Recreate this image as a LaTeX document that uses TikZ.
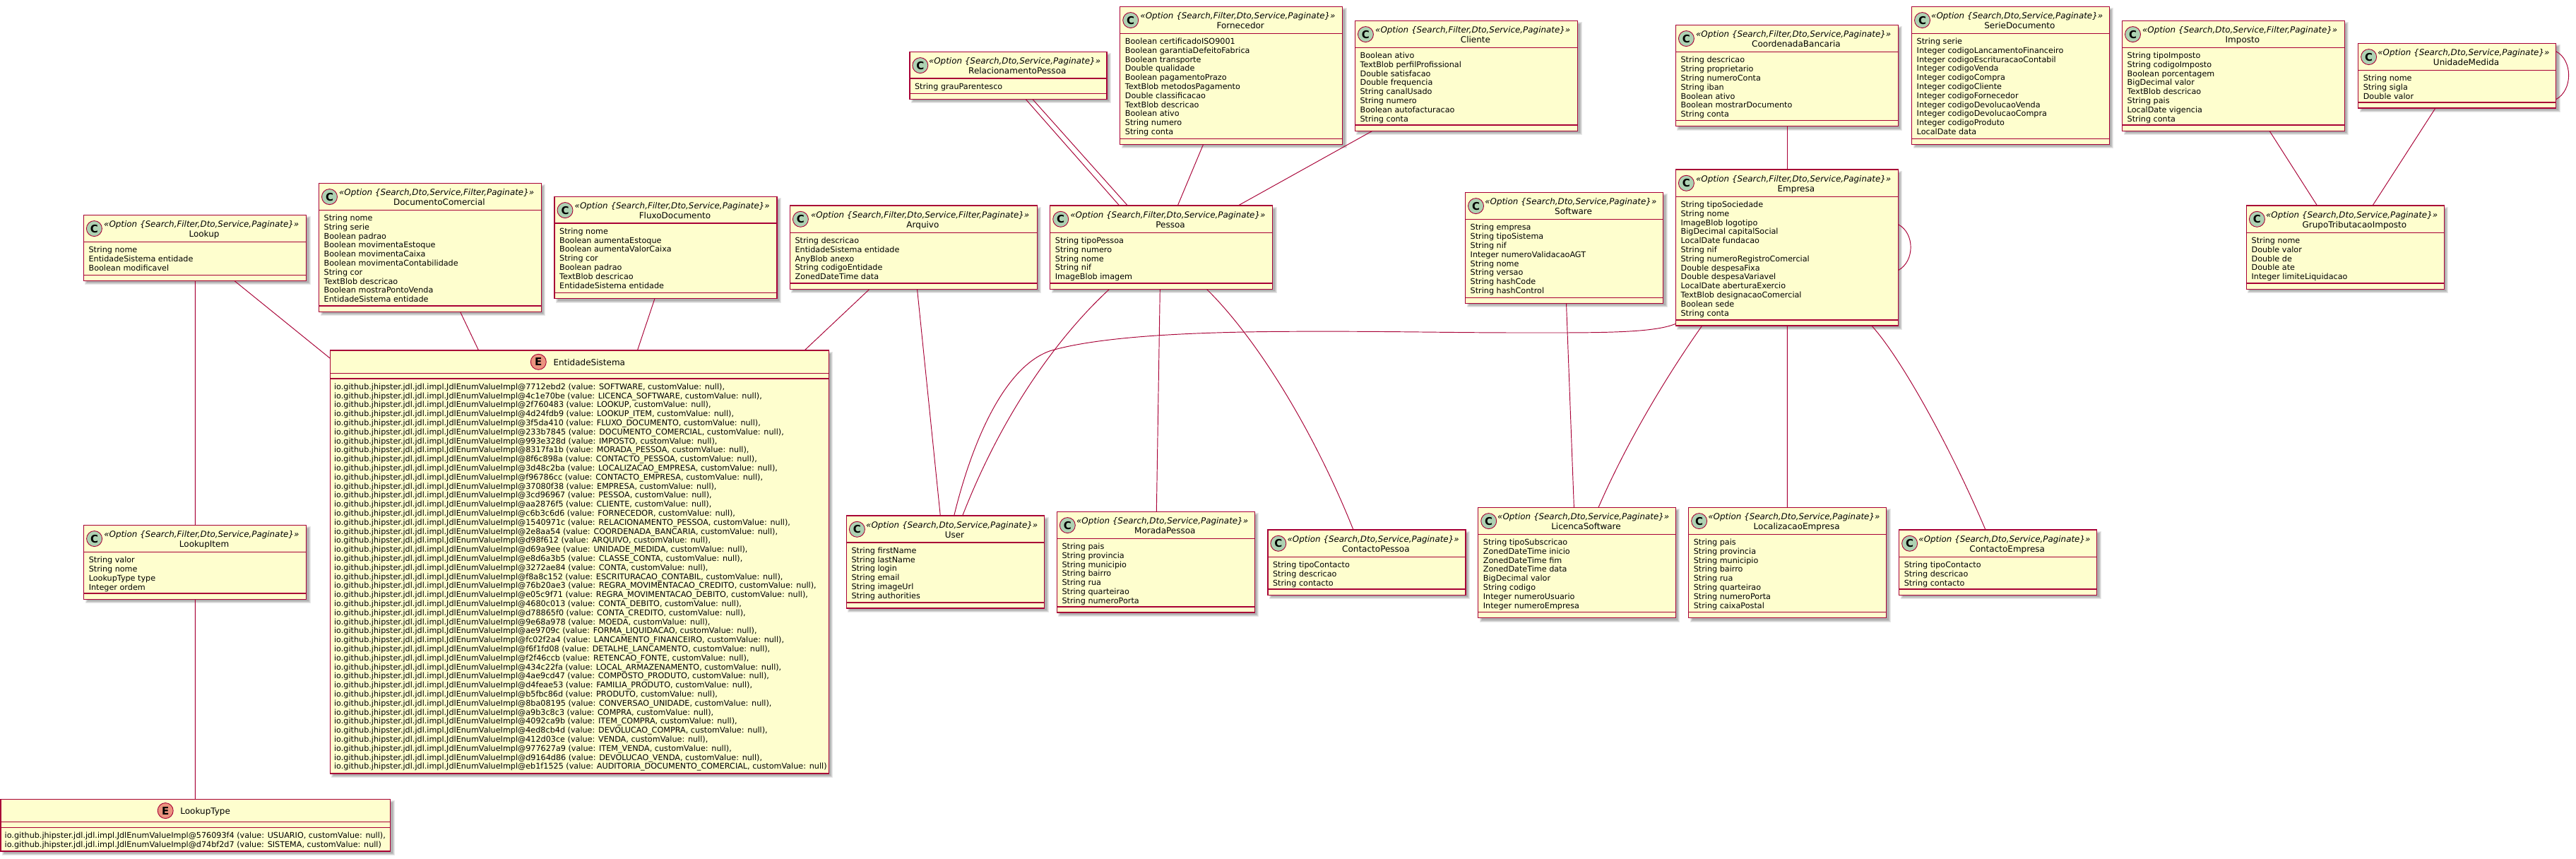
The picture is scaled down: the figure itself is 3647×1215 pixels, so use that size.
\documentclass[tikz,border=0pt]{standalone}
\usepackage{fontspec}
\setmainfont{DejaVu Sans}
\definecolor{umlline}{HTML}{A80036}
\definecolor{umlfill}{HTML}{FEFECE}
\definecolor{umlC}{HTML}{ADD1B2}
\definecolor{umlE}{HTML}{EB937F}
\tikzset{
  x=1pt,y=-1pt,
  boxshape/.style={draw=umlline,fill=umlfill,line width=1.4pt,rectangle,inner sep=0pt,outer sep=0pt,anchor=north west},
  sepline/.style={draw=umlline,line width=1.2pt},
  conn/.style={draw=umlline,line width=0.95pt},
  badge/.style={circle,draw=umlline,line width=0.9pt,inner sep=0pt,minimum size=22pt,font=\fontsize{15}{15}\selectfont\bfseries},
  stereotext/.style={anchor=base,inner sep=0pt,font=\fontsize{11.9}{13}\selectfont\itshape},
  titletext/.style={anchor=base,inner sep=0pt,font=\fontsize{12}{13}\selectfont},
  rowtext/.style={anchor=north west,inner sep=0pt,font=\fontsize{11.2}{13}\selectfont},
}
% rows separated by \\ become one \hbox each, at a fixed pitch
\newcommand{\rowstack}[1]{\vtop{\baselineskip=12.8pt\lineskiplimit=-20pt
  \def\\{\egroup\hbox\bgroup\ignorespaces}\hbox\bgroup\rule{0pt}{10pt}\ignorespaces#1\egroup}}
\newcommand{\umlshadow}[4]{%
  \foreach \g in {2,1,0,-1}{%
    \fill[black,opacity=0.085] ({#1+4-\g},{#2+4-\g}) rectangle ({#3+4+\g},{#4+4+\g});
  }%
}
% id, L, T, R, S1, S2, B, stereotype, title, rows
\newcommand{\umlclass}[9]{%
  \def\clsid{#1}\def\clsL{#2}\def\clsT{#3}\def\clsR{#4}\def\clsA{#5}\def\clsB{#6}\def\clsE{#7}\def\clsS{#8}\def\clsN{#9}%
  \umlclassrows}
\newcommand{\umlclassrows}[1]{%
  \umlshadow{\clsL}{\clsT}{\clsR}{\clsE}
  \pgfmathsetmacro{\bw}{\clsR-\clsL}\pgfmathsetmacro{\bh}{\clsE-\clsT}
  \node[boxshape,minimum width=\bw pt,minimum height=\bh pt] (\clsid) at (\clsL,\clsT) {};
  \draw[sepline] (\clsL,\clsA) -- (\clsR,\clsA);
  \draw[sepline] (\clsL,\clsB) -- (\clsR,\clsB);
  \pgfmathsetmacro{\cx}{\clsL+15}\pgfmathsetmacro{\cy}{\clsT+19.3}
  \node[badge,fill=umlC] (\clsid-badge) at (\cx,\cy) {C};
  \pgfmathsetmacro{\sx}{(\clsL+27+\clsR-8.5)/2}\pgfmathsetmacro{\sy}{\clsT+17.3}
  \node[stereotext] (\clsid-stereo) at (\sx,\sy) {\clsS};
  \pgfmathsetmacro{\tx}{(\clsL+26+\clsR)/2}\pgfmathsetmacro{\ty}{\clsT+31.3}
  \node[titletext] (\clsid-title) at (\tx,\ty) {\clsN};
  \pgfmathsetmacro{\rx}{\clsL+7}\pgfmathsetmacro{\ry}{\clsA+5}
  \node[rowtext] (\clsid-rows) at (\rx,\ry) {\rowstack{#1}};
}
% id, L, T, R, S1, S2, B, circle x, title, rows
\newcommand{\umlenum}[9]{%
  \def\clsid{#1}\def\clsL{#2}\def\clsT{#3}\def\clsR{#4}\def\clsA{#5}\def\clsB{#6}\def\clsE{#7}\def\clsS{#8}\def\clsN{#9}%
  \umlenumrows}
\newcommand{\umlenumrows}[1]{%
  \umlshadow{\clsL}{\clsT}{\clsR}{\clsE}
  \pgfmathsetmacro{\bw}{\clsR-\clsL}\pgfmathsetmacro{\bh}{\clsE-\clsT}
  \node[boxshape,minimum width=\bw pt,minimum height=\bh pt] (\clsid) at (\clsL,\clsT) {};
  \draw[sepline] (\clsL,\clsA) -- (\clsR,\clsA);
  \draw[sepline] (\clsL,\clsB) -- (\clsR,\clsB);
  \pgfmathsetmacro{\cy}{\clsT+16.3}
  \node[badge,fill=umlE] (\clsid-badge) at (\clsS,\cy) {E};
  \pgfmathsetmacro{\ty}{\clsT+21}
  \node[titletext,anchor=base west] (\clsid-title) at ({\clsS+21},\ty) {\clsN};
  \pgfmathsetmacro{\rx}{\clsL+5.5}\pgfmathsetmacro{\ry}{\clsB+5}
  \node[rowtext] (\clsid-rows) at (\rx,\ry) {\rowstack{#1}};
}
\newcommand{\sSFDSP}{«Option \{Search,Filter,Dto,Service,Paginate\}»}
\newcommand{\sSDSP}{«Option \{Search,Dto,Service,Paginate\}»}
\newcommand{\sSDSFP}{«Option \{Search,Dto,Service,Filter,Paginate\}»}
\newcommand{\sSFDSFP}{«Option \{Search,Filter,Dto,Service,Filter,Paginate\}»}
\newcommand{\ev}[3]{io.github.jhipster.jdl.jdl.impl.JdlEnumValueImpl@#1 (value: #2, customValue: null)#3}
\begin{document}
\begin{tikzpicture}
\useasboundingbox (0,0) rectangle (3647,1215);
\fill[white] (0,0) rectangle (3647,1215);

\umlclass{lookup}{118.4}{304.3}{433.6}{342.3}{389.3}{397.3}{\sSFDSP}{Lookup}{String nome\\EntidadeSistema entidade\\Boolean modificavel}
\umlclass{lookupitem}{118.6}{743.3}{433.6}{781.7}{840}{848.3}{\sSFDSP}{LookupItem}{String valor\\String nome\\LookupType type\\Integer ordem}
\umlenum{lookuptype}{1}{1131.3}{552.6}{1163.3}{1171.7}{1205}{234.2}{LookupType}{\ev{576093f4}{USUARIO}{,}\\\ev{d74bf2d7}{SISTEMA}{}}
\umlclass{doccom}{451.5}{259.3}{766.3}{297.3}{433}{441.3}{\sSDSFP}{DocumentoComercial}{String nome\\String serie\\Boolean padrao\\Boolean movimentaEstoque\\Boolean movimentaCaixa\\Boolean movimentaContabilidade\\String cor\\TextBlob descricao\\Boolean mostraPontoVenda\\EntidadeSistema entidade}
\umlclass{fluxo}{785}{278.3}{1100}{316}{414.3}{422.7}{\sSFDSP}{FluxoDocumento}{String nome\\Boolean aumentaEstoque\\Boolean aumentaValorCaixa\\String cor\\Boolean padrao\\TextBlob descricao\\EntidadeSistema entidade}
\umlenum{entidade}{467.4}{496}{1173.4}{528.3}{536}{1095}{762.3}{EntidadeSistema}{%
\ev{7712ebd2}{SOFTWARE}{,}\\
\ev{4c1e70be}{LICENCA\_SOFTWARE}{,}\\
\ev{2f760483}{LOOKUP}{,}\\
\ev{4d24fdb9}{LOOKUP\_ITEM}{,}\\
\ev{3f5da410}{FLUXO\_DOCUMENTO}{,}\\
\ev{233b7845}{DOCUMENTO\_COMERCIAL}{,}\\
\ev{993e328d}{IMPOSTO}{,}\\
\ev{8317fa1b}{MORADA\_PESSOA}{,}\\
\ev{8f6c898a}{CONTACTO\_PESSOA}{,}\\
\ev{3d48c2ba}{LOCALIZACAO\_EMPRESA}{,}\\
\ev{f96786cc}{CONTACTO\_EMPRESA}{,}\\
\ev{37080f38}{EMPRESA}{,}\\
\ev{3cd96967}{PESSOA}{,}\\
\ev{aa2876f5}{CLIENTE}{,}\\
\ev{c6b3c6d6}{FORNECEDOR}{,}\\
\ev{1540971c}{RELACIONAMENTO\_PESSOA}{,}\\
\ev{2e8aa54}{COORDENADA\_BANCARIA}{,}\\
\ev{d98f612}{ARQUIVO}{,}\\
\ev{d69a9ee}{UNIDADE\_MEDIDA}{,}\\
\ev{e8d6a3b5}{CLASSE\_CONTA}{,}\\
\ev{3272ae84}{CONTA}{,}\\
\ev{f8a8c152}{ESCRITURACAO\_CONTABIL}{,}\\
\ev{76b20ae3}{REGRA\_MOVIMENTACAO\_CREDITO}{,}\\
\ev{e05c9f71}{REGRA\_MOVIMENTACAO\_DEBITO}{,}\\
\ev{4680c013}{CONTA\_DEBITO}{,}\\
\ev{d78865f0}{CONTA\_CREDITO}{,}\\
\ev{9e68a978}{MOEDA}{,}\\
\ev{ae9709c}{FORMA\_LIQUIDACAO}{,}\\
\ev{fc02f2a4}{LANCAMENTO\_FINANCEIRO}{,}\\
\ev{f6f1fd08}{DETALHE\_LANCAMENTO}{,}\\
\ev{f2f46ccb}{RETENCAO\_FONTE}{,}\\
\ev{434c22fa}{LOCAL\_ARMAZENAMENTO}{,}\\
\ev{4ae9cd47}{COMPOSTO\_PRODUTO}{,}\\
\ev{d4feae53}{FAMILIA\_PRODUTO}{,}\\
\ev{b5fbc86d}{PRODUTO}{,}\\
\ev{8ba08195}{CONVERSAO\_UNIDADE}{,}\\
\ev{a9b3c8c3}{COMPRA}{,}\\
\ev{4092ca9b}{ITEM\_COMPRA}{,}\\
\ev{4ed8cb4d}{DEVOLUCAO\_COMPRA}{,}\\
\ev{412d03ce}{VENDA}{,}\\
\ev{977627a9}{ITEM\_VENDA}{,}\\
\ev{d9164d86}{DEVOLUCAO\_VENDA}{,}\\
\ev{eb1f1525}{AUDITORIA\_DOCUMENTO\_COMERCIAL}{}}
\umlclass{arquivo}{1118.4}{291}{1468.4}{329.3}{401}{409.3}{\sSFDSFP}{Arquivo}{String descricao\\EntidadeSistema entidade\\AnyBlob anexo\\String codigoEntidade\\ZonedDateTime data}
\umlclass{pessoa}{1486.7}{291}{1801.5}{329.3}{401}{409.3}{\sSFDSP}{Pessoa}{String tipoPessoa\\String numero\\String nome\\String nif\\ImageBlob imagem}
\umlclass{rel}{1287.8}{73.3}{1566.8}{111}{132.3}{140.3}{\sSDSP}{RelacionamentoPessoa}{String grauParentesco}
\umlclass{fornecedor}{1585.7}{9.3}{1900.7}{47.3}{196.3}{204.3}{\sSFDSP}{Fornecedor}{Boolean certificadoISO9001\\Boolean garantiaDefeitoFabrica\\Boolean transporte\\Double qualidade\\Boolean pagamentoPrazo\\TextBlob metodosPagamento\\Double classificacao\\TextBlob descricao\\Boolean ativo\\String numero\\String conta}
\umlclass{cliente}{1918.4}{29.3}{2233.5}{67.3}{177}{185.3}{\sSFDSP}{Cliente}{Boolean ativo\\TextBlob perfilProfissional\\Double satisfacao\\Double frequencia\\String canalUsado\\String numero\\Boolean autofacturacao\\String conta}
\umlclass{coordenada}{2372.4}{35.3}{2687.4}{73.7}{170.3}{178.7}{\sSFDSP}{CoordenadaBancaria}{String descricao\\String proprietario\\String numeroConta\\String iban\\Boolean ativo\\Boolean mostrarDocumento\\String conta}
\umlclass{empresa}{2372.4}{240}{2687.4}{278.3}{453}{461}{\sSFDSP}{Empresa}{String tipoSociedade\\String nome\\ImageBlob logotipo\\BigDecimal capitalSocial\\LocalDate fundacao\\String nif\\String numeroRegistroComercial\\Double despesaFixa\\Double despesaVariavel\\LocalDate aberturaExercio\\TextBlob designacaoComercial\\Boolean sede\\String conta}
\umlclass{software}{2074.5}{272.3}{2354.6}{310.7}{421.3}{429.3}{\sSDSP}{Software}{String empresa\\String tipoSistema\\String nif\\Integer numeroValidacaoAGT\\String nome\\String versao\\String hashCode\\String hashControl}
\umlclass{serie}{2706.5}{9.3}{2986.3}{47.3}{196.3}{204.3}{\sSDSP}{SerieDocumento}{String serie\\Integer codigoLancamentoFinanceiro\\Integer codigoEscrituracaoContabil\\Integer codigoVenda\\Integer codigoCompra\\Integer codigoCliente\\Integer codigoFornecedor\\Integer codigoDevolucaoVenda\\Integer codigoDevolucaoCompra\\Integer codigoProduto\\LocalDate data}
\umlclass{imposto}{3004.5}{29.3}{3319.3}{67.3}{177}{185.3}{\sSDSFP}{Imposto}{String tipoImposto\\String codigoImposto\\Boolean porcentagem\\BigDecimal valor\\TextBlob descricao\\String pais\\LocalDate vigencia\\String conta}
\umlclass{unidade}{3338.6}{61.3}{3618.6}{99.3}{145}{153}{\sSDSP}{UnidadeMedida}{String nome\\String sigla\\Double valor}
\umlclass{grupo}{3180.4}{291}{3460.3}{329.3}{401}{409.3}{\sSDSP}{GrupoTributacaoImposto}{String nome\\Double valor\\Double de\\Double ate\\Integer limiteLiquidacao}
\umlclass{user}{1198.4}{730}{1478.5}{768}{853}{861}{\sSDSP}{User}{String firstName\\String lastName\\String login\\String email\\String imageUrl\\String authorities}
\umlclass{morada}{1496.3}{724.3}{1776.4}{762.3}{859}{867}{\sSDSP}{MoradaPessoa}{String pais\\String provincia\\String municipio\\String bairro\\String rua\\String quarteirao\\String numeroPorta}
\umlclass{contactop}{1794.8}{750}{2075}{788.3}{834}{842.3}{\sSDSP}{ContactoPessoa}{String tipoContacto\\String descricao\\String contacto}
\umlclass{licenca}{2092.7}{718.3}{2372.2}{756.3}{866.3}{874.7}{\sSDSP}{LicencaSoftware}{String tipoSubscricao\\ZonedDateTime inicio\\ZonedDateTime fim\\ZonedDateTime data\\BigDecimal valor\\String codigo\\Integer numeroUsuario\\Integer numeroEmpresa}
\umlclass{localizacao}{2390.6}{718.3}{2670.7}{756.3}{866.3}{874.7}{\sSDSP}{LocalizacaoEmpresa}{String pais\\String provincia\\String municipio\\String bairro\\String rua\\String quarteirao\\String numeroPorta\\String caixaPostal}
\umlclass{contactoe}{2688.6}{750}{2968.7}{788.3}{834}{842.3}{\sSDSP}{ContactoEmpresa}{String tipoContacto\\String descricao\\String contacto}

% connectors
\draw[conn] ([xshift=213.2pt]lookup.south west) -- ([yshift=-11.3pt]entidade.north west);
\draw[conn] ([xshift=158pt]lookup.south west) -- ([xshift=157.8pt]lookupitem.north west);
\draw[conn] ([xshift=157.8pt]lookupitem.south west) -- ([xshift=275.3pt]lookuptype.north west);
\draw[conn] ([xshift=200pt]doccom.south west) -- ([xshift=210.2pt]entidade.north west);
\draw[conn] ([xshift=142pt]fluxo.south west) -- ([xshift=435pt]entidade.north west);
\draw[conn] ([xshift=112.6pt]arquivo.south west) -- ([xshift=671.6pt]entidade.north west);
\draw[conn] ([xshift=180.1pt]arquivo.south west) -- ([xshift=132.9pt]user.north west);
\draw[conn] ([xshift=164.2pt]rel.south west) -- ([xshift=98pt]pessoa.north west);
\draw[conn] ([xshift=173.9pt]rel.south west) -- ([xshift=109.7pt]pessoa.north west);
\draw[conn] ([xshift=117.9pt]fornecedor.south west) -- ([xshift=180.6pt]pessoa.north west);
\draw[conn] ([xshift=24.6pt]cliente.south west) -- ([xshift=266.3pt]pessoa.north west);
\draw[conn] ([xshift=84pt]pessoa.south west) .. controls (1510,465) and (1425,570) .. ([xshift=164.3pt]user.north west);
\draw[conn] ([xshift=155.6pt]pessoa.south west) -- ([xshift=141pt]morada.north west);
\draw[conn] ([xshift=221.6pt]pessoa.south west) .. controls (1780,480) and (1860,610) .. ([xshift=121.2pt]contactop.north west);
\draw[conn] ([yshift=2.7pt]empresa.south west) .. controls (2340,472) and (2260,471) .. (2152,471)
  .. controls (2050,471) and (1950,468.5) .. (1820,469.3)
  .. controls (1700,470) and (1560,475) .. (1486.7,496.7)
  .. controls (1420,520) and (1375,630) .. ([xshift=152.3pt]user.north west);
\draw[conn] ([xshift=157.9pt]coordenada.south west) -- ([xshift=157.9pt]empresa.north west);
\draw[conn] ([yshift=-77.7pt]empresa.north east) .. controls (2711,330) and (2711,370) .. ([yshift=-142.7pt]empresa.north east);
\draw[conn] ([xshift=143pt]software.south west) -- ([xshift=135.7pt]licenca.north west);
\draw[conn] ([xshift=37.4pt]empresa.south west) .. controls (2375,510) and (2310,610) .. ([xshift=170.3pt]licenca.north west);
\draw[conn] ([xshift=157.9pt]empresa.south west) -- ([xshift=139.8pt]localizacao.north west);
\draw[conn] ([xshift=277.3pt]empresa.south west) .. controls (2690,505) and (2760,630) .. ([xshift=122.4pt]contactoe.north west);
\draw[conn] ([xshift=208.5pt]imposto.south west) -- ([xshift=100.1pt]grupo.north west);
\draw[conn] ([xshift=109.4pt]unidade.south west) -- ([xshift=178.6pt]grupo.north west);
\draw[conn] ([yshift=-11.4pt]unidade.north east) .. controls (3642.6,85) and (3642.6,128) .. ([yshift=-79.4pt]unidade.north east);
\end{tikzpicture}
\end{document}
